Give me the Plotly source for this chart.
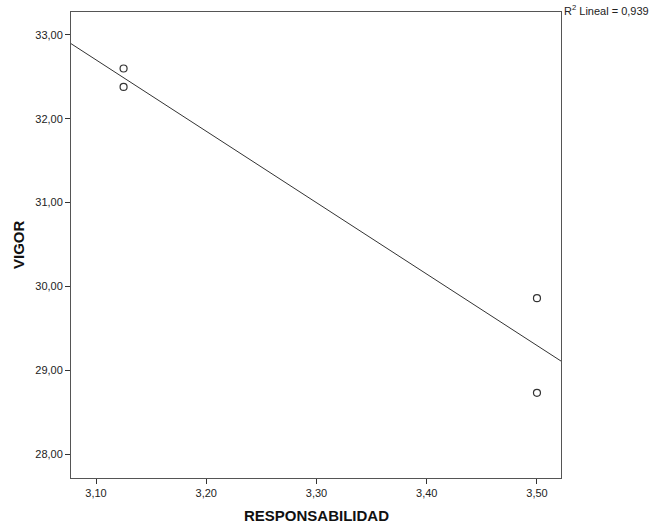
import numpy as np
import plotly.graph_objects as go

responsabilidad = [3.125, 3.125, 3.50, 3.50]
vigor = [32.60, 32.38, 29.86, 28.73]
x_ticks = [3.10, 3.20, 3.30, 3.40, 3.50]
y_ticks = [28, 29, 30, 31, 32, 33]
x_range = [3.0773, 3.5218]
y_range = [27.714, 33.274]

slope, intercept = np.polyfit(responsabilidad, vigor, 1)
pred = np.polyval([slope, intercept], responsabilidad)
ss_res = float(np.sum((np.array(vigor) - pred) ** 2))
ss_tot = float(np.sum((np.array(vigor) - np.mean(vigor)) ** 2))
r2 = 1 - ss_res / ss_tot
line_x = np.array(x_range)
line_y = slope * line_x + intercept

fig = go.Figure()
fig.add_trace(go.Scatter(x=line_x, y=line_y, mode="lines",
                         line=dict(color="#333333", width=1), hoverinfo="skip"))
fig.add_trace(go.Scatter(x=responsabilidad, y=vigor, mode="markers",
                         marker=dict(symbol="circle-open", size=7,
                                     color="#333333", line=dict(width=1.2))))

font = "Liberation Sans, Arial, sans-serif"
axis_common = dict(showgrid=False, zeroline=False, showline=True, mirror=True,
                   linecolor="#555555", linewidth=1, ticks="outside", ticklen=5,
                   tickcolor="#333333", tickwidth=1,
                   tickfont=dict(family=font, size=11, color="#222222"),
                   tickformat=".2f")
fig.update_xaxes(range=x_range, tickvals=x_ticks, **axis_common)
fig.update_yaxes(range=y_range, tickvals=y_ticks, **axis_common)

r2_text = f"{r2:.3f}".replace(".", ",")
fig.add_annotation(x=1, y=1, xref="paper", yref="paper", xanchor="left",
                   yanchor="middle", yshift=2, xshift=1, showarrow=False,
                   text=f"R<sup>2</sup> Lineal = {r2_text}",
                   font=dict(family=font, size=11, color="#222222"))
fig.add_annotation(x=0.5, y=0, xref="paper", yref="paper", yanchor="middle",
                   yshift=-37, showarrow=False, text="<b>RESPONSABILIDAD</b>",
                   font=dict(family=font, size=15, color="#111111"))
fig.add_annotation(x=0, y=0.5, xref="paper", yref="paper", xanchor="center",
                   xshift=-53, showarrow=False, text="<b>VIGOR</b>", textangle=-90,
                   font=dict(family=font, size=15, color="#111111"))

fig.update_layout(width=650, height=527, showlegend=False,
                  separators=",.",
                  margin=dict(l=71, r=89, t=12, b=49),
                  plot_bgcolor="white", paper_bgcolor="white")
fig.write_html("out.html", config={"displayModeBar": False},
               post_script="document.body.style.margin='0';document.body.style.padding='0';")
